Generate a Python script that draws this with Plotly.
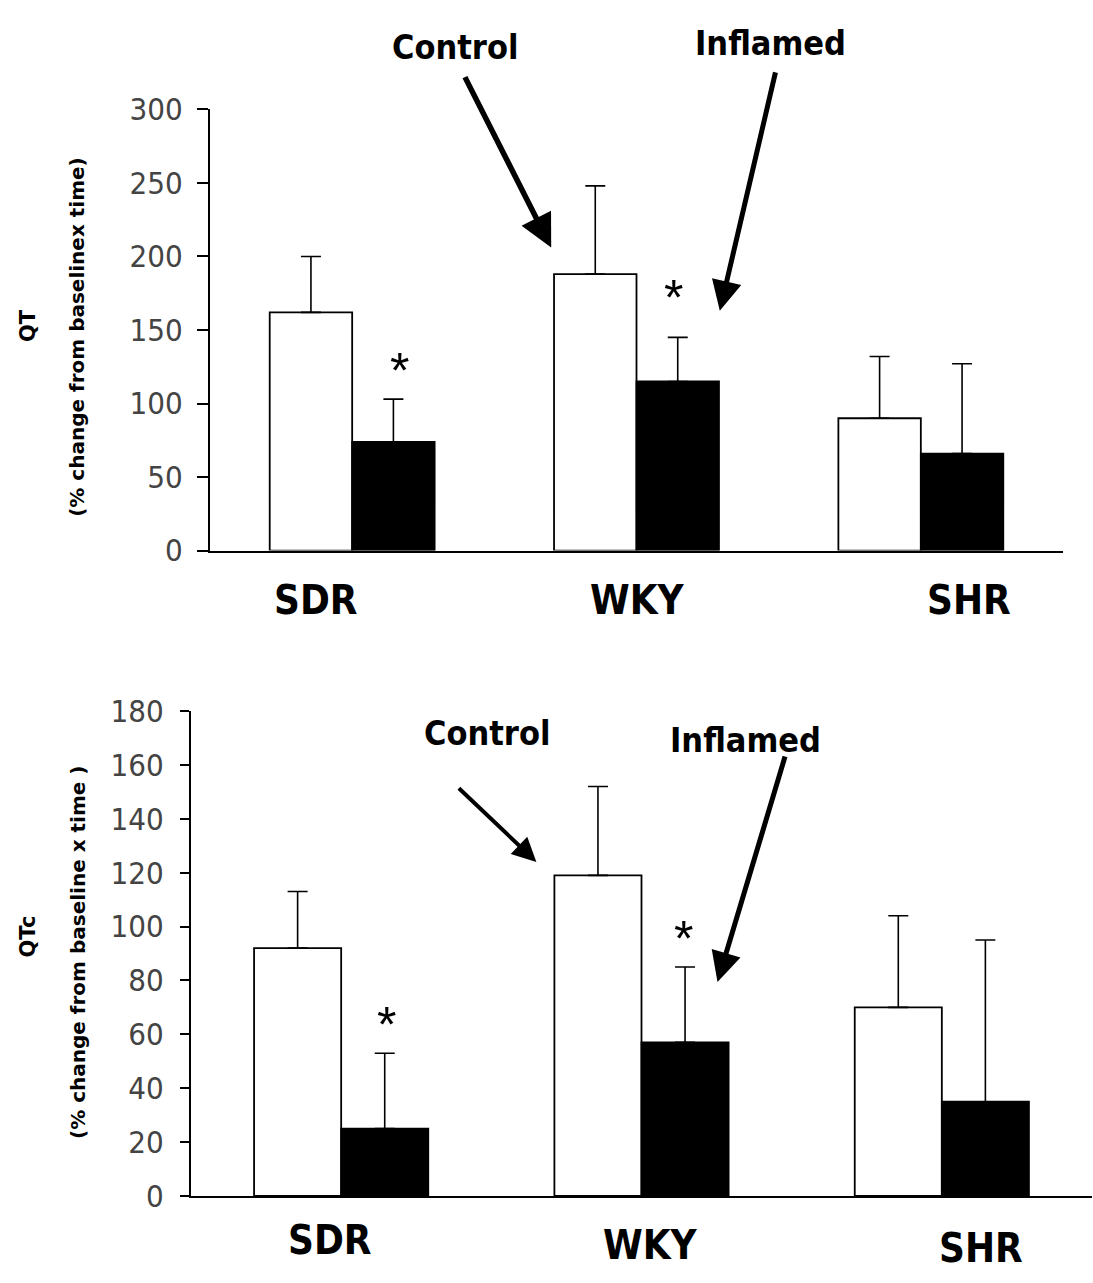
import plotly.graph_objects as go

# ---------------- data ----------------
groups = ["SDR", "WKY", "SHR"]

qt_control = [162, 188, 90]
qt_control_err = [38, 60, 42]
qt_inflamed = [74, 115, 66]
qt_inflamed_err = [29, 30, 61]

qtc_control = [92, 119, 70]
qtc_control_err = [21, 33, 34]
qtc_inflamed = [25, 57, 35]
qtc_inflamed_err = [28, 28, 60]

qt_ticks = [0, 50, 100, 150, 200, 250, 300]
qtc_ticks = [0, 20, 40, 60, 80, 100, 120, 140, 160, 180]

qt_sig = [126, 176]      # asterisk heights above inflamed bars (SDR, WKY)
qtc_sig = [68, 100]

# ---------------- styling ----------------
NARROW = "Liberation Sans Narrow, DejaVu Sans Condensed, Arial Narrow, sans-serif"
SANS = "Liberation Sans, Arial, sans-serif"
WIDE = "DejaVu Sans, Verdana, sans-serif"

fig = go.Figure()


def add_pair(xa, ya, ctrl, ctrl_err, infl, infl_err):
    fig.add_trace(go.Bar(
        x=groups, y=ctrl, name="Control", xaxis=xa, yaxis=ya,
        marker=dict(color="white", line=dict(color="black", width=1.8)),
        error_y=dict(type="data", symmetric=False, array=ctrl_err,
                     arrayminus=[0] * len(ctrl), color="black",
                     thickness=1.6, width=10),
        showlegend=False))
    fig.add_trace(go.Bar(
        x=groups, y=infl, name="Inflamed", xaxis=xa, yaxis=ya,
        marker=dict(color="black", line=dict(color="black", width=1.8)),
        error_y=dict(type="data", symmetric=False, array=infl_err,
                     arrayminus=[0] * len(infl), color="black",
                     thickness=1.6, width=10),
        showlegend=False))


add_pair("x", "y", qt_control, qt_control_err, qt_inflamed, qt_inflamed_err)
add_pair("x2", "y2", qtc_control, qtc_control_err, qtc_inflamed, qtc_inflamed_err)

W, H = 1093, 1283

xcommon = dict(range=[-0.5, 2.5], showline=True, linecolor="black", linewidth=2,
               showticklabels=False, ticks="", showgrid=False, zeroline=False,
               fixedrange=True)
ycommon = dict(showline=True, linecolor="black", linewidth=2, ticks="outside",
               tickcolor="black", tickwidth=1.6, showgrid=False, zeroline=False,
               tickfont=dict(family=NARROW, size=31, color="#444444"))

fig.update_layout(
    width=W, height=H,
    margin=dict(l=0, r=0, t=0, b=0),
    paper_bgcolor="white", plot_bgcolor="white",
    barmode="group", bargap=0.42, bargroupgap=0,
    xaxis=dict(domain=[210 / W, 1063 / W], anchor="y", **xcommon),
    yaxis=dict(domain=[(H - 548) / H, (H - 94) / H], anchor="x", range=[0, 300],
               tickvals=qt_ticks, ticklen=11, ticklabelstandoff=8, **ycommon),
    xaxis2=dict(domain=[191 / W, 1092 / W], anchor="y2", **xcommon),
    yaxis2=dict(domain=[(H - 1212) / H, (H - 713) / H], anchor="x2", range=[0, 180],
                tickvals=qtc_ticks, ticklen=9, ticklabelstandoff=10, **ycommon),
)

ann = []

# category labels
top_label_pos = [(-0.127, 599), (1.004, 599), (2.17, 599)]
bot_label_pos = [(-0.037, 1257), (1.03, 1262), (2.13, 1265)]
for g, (x, y) in zip(groups, top_label_pos):
    ann.append(dict(text=g, x=x, y=1 - y / H, xref="x", yref="paper",
                    showarrow=False, xanchor="center", yanchor="middle",
                    font=dict(family=NARROW, size=40, color="black", weight="bold")))
for g, (x, y) in zip(groups, bot_label_pos):
    ann.append(dict(text=g, x=x, y=1 - y / H, xref="x2", yref="paper",
                    showarrow=False, xanchor="center", yanchor="middle",
                    font=dict(family=NARROW, size=40, color="black", weight="bold")))

# asterisks
top_star_dx = [0.165, 0.13]
bot_star_dx = [0.15, 0.14]
for i, yv in enumerate(qt_sig):
    ann.append(dict(text="*", x=i + top_star_dx[i], y=yv, xref="x", yref="y",
                    showarrow=False, yanchor="middle", yshift=-6,
                    font=dict(family=SANS, size=50, color="black")))
for i, yv in enumerate(qtc_sig):
    ann.append(dict(text="*", x=i + bot_star_dx[i], y=yv, xref="x2", yref="y2",
                    showarrow=False, yanchor="middle", yshift=-12,
                    font=dict(family=SANS, size=50, color="black")))

# Control / Inflamed labels
for txt, (px, py) in [("Control", (455, 30)), ("Inflamed", (770, 26)),
                      ("Control", (487, 736)), ("Inflamed", (745, 743))]:
    ann.append(dict(text=txt, x=px / W, y=1 - py / H, xref="paper", yref="paper",
                    showarrow=False, xanchor="center", yanchor="middle",
                    font=dict(family=NARROW, size=34, color="black", weight="bold")))

# arrows
arrows = [
    ("x", "y", 0.70, 206, -87, -172, 5.5),
    ("x", "y", 1.293, 163, 56, -240, 5),
    ("x2", "y2", 0.65, 124, -79, -75, 4),
    ("x2", "y2", 1.253, 79.4, 68, -227, 5),
]
for xr, yr, x, y, ax, ay, w in arrows:
    ann.append(dict(text="", x=x, y=y, xref=xr, yref=yr, ax=ax, ay=ay,
                    showarrow=True, arrowhead=2, arrowsize=1.2, arrowwidth=w,
                    arrowcolor="black", standoff=0))

# y-axis titles
for txt, px, py, size in [("QT", 28, 317, 21),
                          ("(% change from baselinex time)", 77, 328, 20),
                          ("QTc", 28, 945, 21),
                          ("(% change from baseline x time )", 78, 962, 20)]:
    ann.append(dict(text=txt, x=px / W, y=1 - py / H, xref="paper", yref="paper",
                    showarrow=False, textangle=-90, xanchor="center", yanchor="middle",
                    font=dict(family=WIDE, size=size, color="black", weight="bold")))

fig.update_layout(annotations=ann)

fig.write_html("out.html")
